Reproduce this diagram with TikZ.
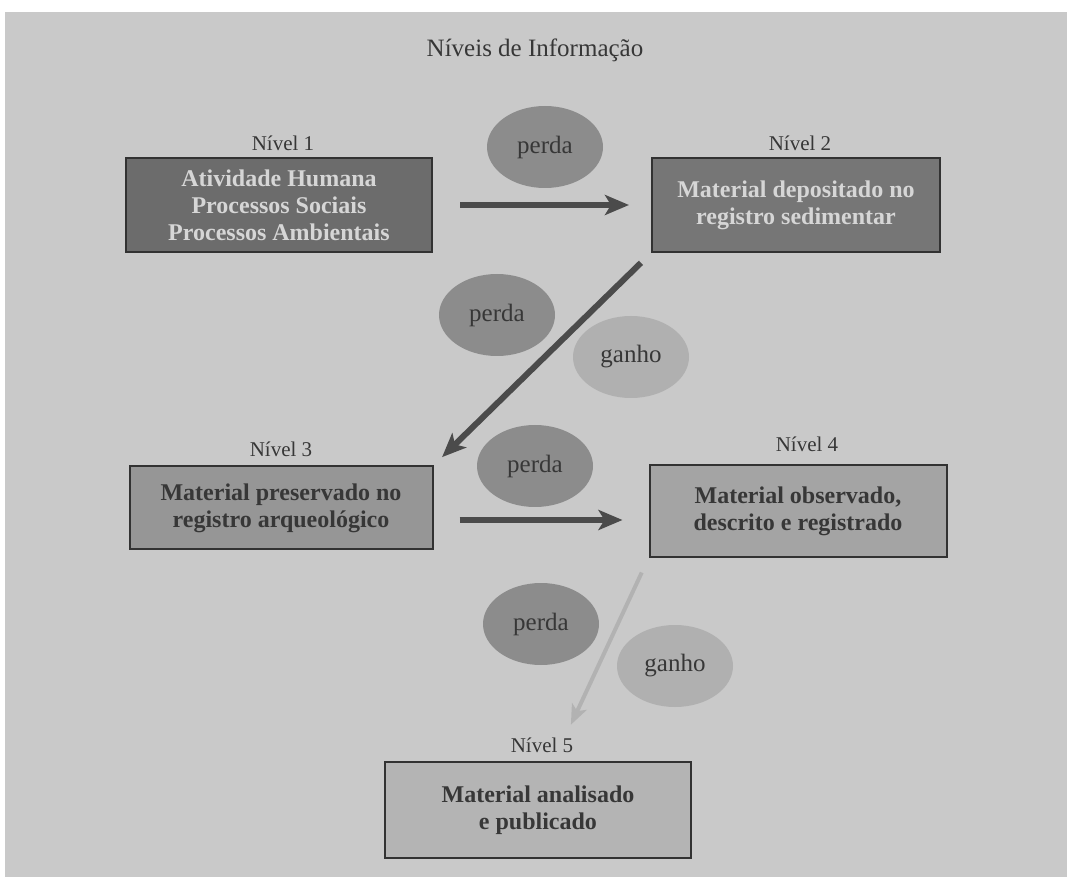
\documentclass[tikz,border=0pt]{standalone}
\usepackage{fontspec}
\setmainfont{Liberation Serif}
\usetikzlibrary{positioning,shapes.geometric,arrows.meta}

\definecolor{bggray}{RGB}{201,201,201}
\definecolor{boxline}{RGB}{50,50,50}
\definecolor{darkfill}{RGB}{108,108,108}
\definecolor{midfill}{RGB}{118,118,118}
\definecolor{prefill}{RGB}{150,150,150}
\definecolor{obsfill}{RGB}{164,164,164}
\definecolor{pubfill}{RGB}{180,180,180}
\definecolor{lossgray}{RGB}{140,140,140}
\definecolor{gaingray}{RGB}{176,176,176}
\definecolor{paletext}{RGB}{214,214,214}
\definecolor{labeltext}{RGB}{55,55,55}
\definecolor{arrowgray}{RGB}{75,75,75}
\definecolor{lightarrow}{RGB}{178,178,178}

\tikzset{
  levelbox/.style={draw=boxline, line width=1pt, align=center,
    font=\fontsize{12}{13.5}\selectfont\bfseries, inner sep=0pt},
  levellabel/.style={font=\fontsize{10.5}{12}\selectfont, text=labeltext, inner sep=1pt},
  lossblob/.style={ellipse, fill=lossgray, minimum width=58pt, minimum height=41pt,
    inner sep=0pt, font=\fontsize{12.5}{14}\selectfont, text=labeltext},
  gainblob/.style={lossblob, fill=gaingray},
  flowarrow/.style={line width=3pt, draw=arrowgray,
    -{Stealth[length=12pt,width=10pt,inset=3pt]}},
  lightflow/.style={line width=2pt, draw=lightarrow,
    -{Stealth[length=10pt,width=8pt,inset=2.5pt]}},
}

\begin{document}
\begin{tikzpicture}[x=0.5pt,y=-0.5pt]
    % Frame
    \useasboundingbox (0,0) rectangle (1067,877);
    \fill[bggray] (5,12) rectangle (1067,877);

    % Title
    \node[font=\fontsize{12.5}{14}\selectfont, text=labeltext] (title) at (535,50) {Níveis de Informação};

    % Level boxes
    \node[levelbox, fill=darkfill, text=paletext, minimum width=153pt, minimum height=47pt]
        (n1) at (279,205) {Atividade Humana\\Processos Sociais\\Processos Ambientais};
    \node[levelbox, fill=midfill, text=paletext, minimum width=144pt, minimum height=47pt]
        (n2) at (796,205) {Material depositado no\\registro sedimentar};
    \node[levelbox, fill=prefill, text=labeltext, minimum width=151.5pt, minimum height=41.5pt]
        (n3) at (281,508) {Material preservado no\\registro arqueológico};
    \node[levelbox, fill=obsfill, text=labeltext, minimum width=148.5pt, minimum height=46pt]
        (n4) at (798,511) {Material observado,\\descrito e registrado};
    \node[levelbox, fill=pubfill, text=labeltext, minimum width=153pt, minimum height=48pt]
        (n5) at (538,810) {Material analisado\\e publicado};

    % Level labels
    \node[levellabel, above=2pt of n1, xshift=2pt] (l1) {Nível 1};
    \node[levellabel, above=2pt of n2, xshift=2pt] (l2) {Nível 2};
    \node[levellabel, above=3pt of n3] (l3) {Nível 3};
    \node[levellabel, above=5pt of n4, xshift=4.5pt] (l4) {Nível 4};
    \node[levellabel, above=3pt of n5, xshift=2pt] (l5) {Nível 5};

    % Losses and gains
    \node[lossblob] (p1) at (545,147) {perda};
    \node[lossblob] (p2) at (497,315) {perda};
    \node[gainblob] (g1) at (631,357) {ganho};
    \node[lossblob] (p3) at (535,466) {perda};
    \node[lossblob] (p4) at (541,624) {perda};
    \node[gainblob] (g2) at (675,666) {ganho};

    % Flow between levels
    \draw[flowarrow, shorten <=13.5pt, shorten >=11pt] (n1.east) -- (n1.east -| n2.west);
    \draw[flowarrow, shorten <=7pt, shorten >=6pt] (n2.south west) -- (n3.north east);
    \draw[flowarrow, shorten <=13pt, shorten >=13pt] ([yshift=-6pt]n3.east) -- ([yshift=-6pt]n3.east -| n4.west);
    \draw[lightflow, shorten <=8pt, shorten >=20pt] (n4.south west) -- ([xshift=8pt]n5.north);

\end{tikzpicture}
\end{document}
